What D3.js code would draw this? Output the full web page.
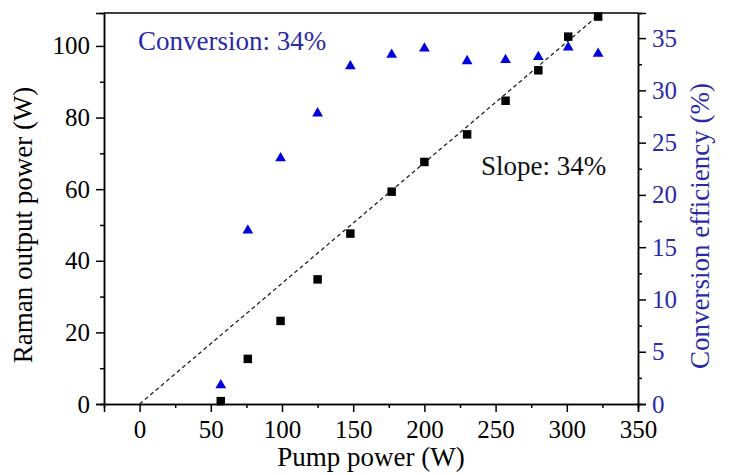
<!DOCTYPE html>
<html>
<head>
<meta charset="utf-8">
<script src="https://cdn.jsdelivr.net/npm/d3@7"></script>
<style>
  body { margin: 0; background: #fff; }
  svg text { font-family: "Liberation Serif", "Times New Roman", serif; }
</style>
</head>
<body>
<div id="chart"></div>
<script>
// pump power (W)
const pumpPower = [57, 76, 99, 125, 148, 177, 200, 230, 257, 280, 301, 322];
// Raman output power (W)
const ramanPower = [0.8, 12.6, 23.2, 34.8, 47.6, 59.3, 67.6, 75.3, 84.7, 93.2, 102.6, 108.2];
// conversion efficiency (%)
const efficiency = [1.9, 16.7, 23.6, 27.9, 32.4, 33.5, 34.1, 32.9, 33.0, 33.3, 34.2, 33.6];
// linear fit, slope 34 %
const fitX = [0, 322];
const fitY = [0, 108.5];

const xTicks = [0, 50, 100, 150, 200, 250, 300, 350];
const yTicks = [0, 20, 40, 60, 80, 100];
const y2Ticks = [0, 5, 10, 15, 20, 25, 30, 35];

const W = 732, H = 475;
const margin = {top: 13, right: 94, bottom: 71, left: 104};
const width = W - margin.left - margin.right;
const height = H - margin.top - margin.bottom;
const blue = "#0000dd";
const textBlue = "#2a2aa8";

const svg = d3.select("#chart").append("svg")
    .attr("width", W)
    .attr("height", H);
const g = svg.append("g")
    .attr("transform", `translate(${margin.left},${margin.top})`);

const x = d3.scaleLinear().domain([-25, 350]).range([0, width]);
const y = d3.scaleLinear().domain([0, 109.2]).range([height, 0]);
const y2 = d3.scaleLinear().domain([0, 37.4]).range([height, 0]);

// minor ticks first, then major ticks with labels
function styleAxis(sel, color) {
  sel.select(".domain").attr("stroke", "#000").attr("stroke-width", 1.5);
  sel.selectAll(".tick line").attr("stroke", "#000").attr("stroke-width", 1.5);
  sel.selectAll(".tick text")
    .attr("fill", color)
    .style("font-size", "25px");
}

g.append("g")
    .attr("transform", `translate(0,${height})`)
    .call(d3.axisBottom(x).tickValues(d3.range(25, 350, 50)).tickSize(4).tickFormat(""))
    .call(s => styleAxis(s, "#000"));
g.append("g")
    .attr("transform", `translate(0,${height})`)
    .call(d3.axisBottom(x).tickValues(xTicks).tickSize(8).tickPadding(8))
    .call(s => styleAxis(s, "#000"));

g.append("g")
    .call(d3.axisLeft(y).tickValues(d3.range(10, 110, 20)).tickSize(4).tickFormat(""))
    .call(s => styleAxis(s, "#000"));
g.append("g")
    .call(d3.axisLeft(y).tickValues(yTicks).tickSize(8).tickPadding(6))
    .call(s => styleAxis(s, "#000"));

g.append("g")
    .attr("transform", `translate(${width},0)`)
    .call(d3.axisRight(y2).tickValues(d3.range(2.5, 37.5, 5)).tickSize(4).tickFormat(""))
    .call(s => styleAxis(s, "#000"));
g.append("g")
    .attr("transform", `translate(${width},0)`)
    .call(d3.axisRight(y2).tickValues(y2Ticks).tickSize(8).tickPadding(6))
    .call(s => styleAxis(s, textBlue));

// top frame
g.append("line")
    .attr("x1", 0).attr("x2", width)
    .attr("y1", 0).attr("y2", 0)
    .attr("stroke", "#000").attr("stroke-width", 1.5);

// dashed fit line
g.append("path")
    .datum(fitX.map((d, i) => [d, fitY[i]]))
    .attr("fill", "none")
    .attr("stroke", "#222")
    .attr("stroke-width", 1.3)
    .attr("stroke-dasharray", "4,3")
    .attr("d", d3.line().x(d => x(d[0])).y(d => y(d[1])));

// Raman output squares
g.selectAll(".sq")
  .data(pumpPower)
  .enter().append("path")
    .attr("class", "sq")
    .attr("transform", (d, i) => `translate(${x(d)},${y(ramanPower[i])})`)
    .attr("d", d3.symbol().type(d3.symbolSquare).size(72))
    .attr("fill", "#000");

// efficiency triangles
g.selectAll(".tri")
  .data(pumpPower)
  .enter().append("path")
    .attr("class", "tri")
    .attr("transform", (d, i) => `translate(${x(d)},${y2(efficiency[i]) + 1})`)
    .attr("d", d3.symbol().type(d3.symbolTriangle).size(50))
    .attr("fill", blue);

// annotations
g.append("text")
    .attr("x", 34).attr("y", 37)
    .attr("fill", textBlue)
    .style("font-size", "27px")
    .text("Conversion: 34%");
g.append("text")
    .attr("x", 377).attr("y", 162)
    .attr("fill", "#111")
    .style("font-size", "27px")
    .text("Slope: 34%");

// axis titles
svg.append("text")
    .attr("x", margin.left + width / 2).attr("y", 466)
    .attr("text-anchor", "middle")
    .style("font-size", "27px")
    .text("Pump power (W)");
svg.append("text")
    .attr("transform", "translate(32,225) rotate(-90)")
    .attr("text-anchor", "middle")
    .style("font-size", "27px")
    .text("Raman output power (W)");
svg.append("text")
    .attr("transform", "translate(709,226) rotate(-90)")
    .attr("text-anchor", "middle")
    .attr("fill", textBlue)
    .style("font-size", "27px")
    .text("Conversion efficiency (%)");
</script>
</body>
</html>
